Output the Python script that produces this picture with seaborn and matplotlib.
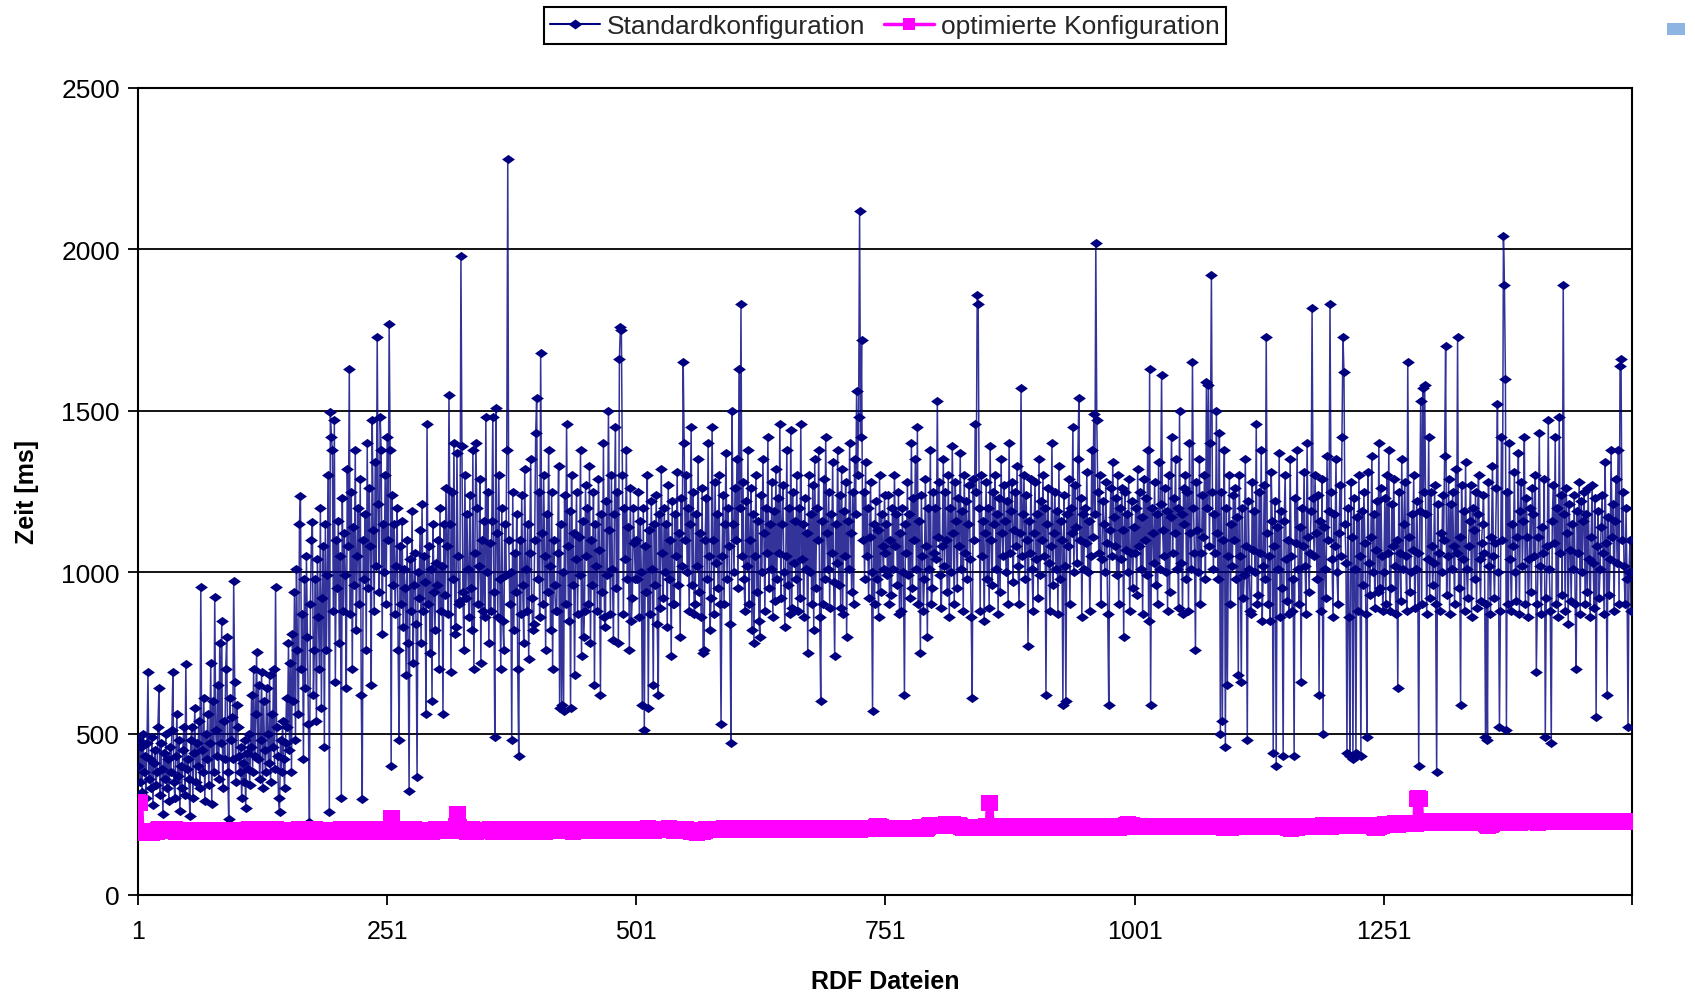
import numpy as np
import pandas as pd
import matplotlib
matplotlib.use("Agg")
import matplotlib.pyplot as plt
from matplotlib.lines import Line2D
from matplotlib.patches import Rectangle
import seaborn as sns

# ---------------- data ----------------
standard_ms = [
    # 1-50
    400, 480, 350, 460, 320, 500, 380, 430, 300, 470,
    690, 360, 420, 330, 490, 280, 410, 450, 340, 380,
    520, 640, 310, 470, 390, 250, 440, 360, 500, 330,
    420, 290, 460, 380, 510, 690, 350, 300, 430, 560,
    370, 480, 260, 400, 330, 450, 520, 310, 716, 390,
    # 51-100
    420, 360, 245, 480, 520, 300, 440, 580, 350, 470,
    400, 540, 330, 954, 450, 380, 610, 290, 500, 420,
    560, 340, 470, 720, 282, 600, 380, 923, 510, 430,
    650, 360, 780, 470, 850, 330, 540, 420, 700, 800,
    380, 235, 610, 480, 550, 420, 973, 660, 350, 590,
    # 101-150
    520, 430, 380, 460, 300, 410, 350, 480, 270, 440,
    390, 500, 340, 460, 620, 380, 700, 430, 560, 753,
    420, 650, 360, 480, 690, 330, 600, 450, 380, 640,
    500, 410, 680, 350, 560, 460, 700, 390, 954, 520,
    430, 300, 257, 480, 380, 540, 420, 330, 470, 610,
    # 151-200
    520, 780, 450, 720, 380, 810, 600, 940, 480, 1010,
    760, 560, 1150, 1236, 700, 870, 420, 980, 640, 1050,
    800, 530, 226, 900, 1100, 1155, 620, 760, 980, 540,
    1040, 860, 700, 1200, 580, 920, 1080, 460, 1150, 760,
    990, 1300, 257, 1496, 1420, 1380, 880, 1470, 660, 1100,
    # 201-250
    950, 1160, 780, 1050, 300, 1230, 880, 1120, 990, 640,
    1320, 1080, 1630, 870, 1250, 700, 1140, 960, 1380, 820,
    1050, 1200, 900, 1290, 620, 297, 1100, 980, 1180, 760,
    1400, 950, 1260, 1080, 650, 1470, 1130, 880, 1340, 1020,
    1730, 1210, 940, 1480, 1380, 810, 1150, 1000, 1300, 900,
    # 251-300
    1420, 1100, 1770, 1380, 400, 1240, 960, 1150, 870, 1020,
    1200, 760, 480, 1080, 900, 1160, 830, 1010, 950, 680,
    1100, 780, 322, 1040, 880, 1190, 720, 960, 1060, 840,
    365, 1000, 920, 1130, 780, 1210, 880, 1050, 970, 560,
    1459, 900, 1080, 750, 1010, 600, 1150, 940, 820, 1030,
    # 301-350
    960, 1100, 700, 1200, 880, 1020, 560, 1150, 930, 1260,
    1080, 870, 1550, 1150, 690, 1250, 980, 1400, 810, 830,
    1370, 1050, 900, 910, 1980, 1390, 940, 760, 1300, 920,
    1180, 1010, 860, 1240, 950, 820, 1380, 700, 1060, 1400,
    1200, 900, 1020, 1290, 720, 1100, 880, 1160, 860, 1480,
    # 351-400
    1000, 1250, 780, 1090, 880, 1160, 1480, 940, 490, 1510,
    1120, 860, 1300, 980, 700, 1200, 850, 760, 1150, 990,
    1380, 2280, 1100, 900, 1000, 480, 1250, 820, 1060, 940,
    1180, 700, 430, 1100, 870, 1240, 960, 780, 1320, 1010,
    880, 1150, 730, 1060, 1350, 920, 820, 840, 1100, 1430,
    # 401-450
    1540, 980, 1250, 860, 1680, 1120, 900, 1300, 1050, 760,
    1180, 940, 1380, 1020, 820, 1250, 700, 1100, 960, 880,
    880, 1060, 1330, 580, 1150, 590, 1000, 570, 1240, 900,
    1460, 1080, 850, 1190, 580, 1300, 960, 1120, 680, 1040,
    1250, 870, 1110, 990, 1380, 740, 1160, 800, 880, 1270,
    # 451-500
    1050, 1200, 900, 1330, 780, 1100, 960, 1250, 650, 1150,
    1020, 880, 1290, 1070, 620, 1180, 940, 1400, 860, 830,
    1220, 990, 1500, 1130, 870, 1300, 1010, 790, 1180, 1450,
    950, 1250, 780, 1660, 1760, 1750, 1300, 870, 1200, 1040,
    1380, 980, 1140, 760, 1260, 850, 920, 1200, 1090, 980,
    # 501-550
    1100, 980, 1250, 860, 1160, 1000, 590, 1200, 510, 1080,
    940, 1300, 580, 1130, 870, 1220, 1010, 650, 1150, 960,
    1240, 840, 620, 1180, 890, 1320, 1060, 920, 1200, 1000,
    1150, 830, 1270, 980, 1100, 740, 1220, 900, 900, 1180,
    1050, 1310, 960, 1120, 800, 1230, 1020, 1650, 1400, 1100,
    # 551-600
    1300, 1000, 1200, 880, 1150, 1450, 960, 1250, 870, 900,
    1180, 1020, 1350, 940, 1120, 860, 1260, 750, 760, 1100,
    1230, 980, 1400, 1050, 820, 920, 1450, 1100, 870, 1280,
    1030, 1180, 950, 1300, 900, 530, 1050, 1240, 900, 1150,
    1370, 980, 1200, 1080, 840, 470, 1500, 1150, 1000, 1260,
    # 601-650
    1100, 1350, 950, 1630, 1200, 1830, 1050, 1280, 980, 880,
    1220, 1020, 1380, 900, 1100, 1260, 820, 1180, 780, 1050,
    1300, 940, 1160, 850, 800, 1240, 1000, 1350, 1120, 880,
    1200, 1060, 1420, 950, 1150, 1010, 1280, 860, 1190, 910,
    1320, 980, 1230, 1060, 1460, 920, 1150, 1270, 1000, 830,
    # 651-700
    1050, 1380, 960, 1200, 870, 1440, 890, 1250, 1030, 1160,
    980, 1300, 880, 1200, 920, 1460, 1040, 1150, 860, 1230,
    1010, 1120, 750, 1300, 1000, 1180, 900, 1270, 820, 1350,
    950, 1200, 1100, 1380, 860, 600, 1160, 900, 1290, 980,
    1420, 1120, 1010, 1250, 890, 1180, 1060, 1340, 970, 740,
    # 701-750
    1150, 1030, 1380, 960, 1240, 890, 1320, 870, 1190, 1050,
    1280, 800, 1160, 1010, 1400, 1120, 940, 1250, 900, 1350,
    1180, 1560, 1300, 1480, 2120, 1420, 1720, 1100, 1250, 980,
    1340, 1050, 1200, 920, 1110, 1280, 1000, 570, 1150, 900,
    1220, 980, 1130, 860, 1300, 940, 1180, 1080, 1010, 1240,
    # 751-800
    1060, 1150, 990, 1240, 900, 1100, 930, 1200, 1010, 1300,
    1080, 1180, 960, 1250, 870, 1120, 880, 1200, 1000, 620,
    1150, 1060, 1280, 990, 1180, 920, 1400, 950, 1230, 1100,
    1350, 1010, 1450, 900, 1160, 750, 1240, 1050, 880, 980,
    1290, 1080, 800, 1200, 1010, 1380, 900, 950, 1250, 1060,
    # 801-850
    1200, 1040, 1530, 1110, 1280, 990, 890, 1080, 1350, 1020,
    1250, 1100, 940, 1300, 860, 1200, 1000, 1390, 1120, 900,
    1280, 1160, 950, 1230, 1080, 1370, 1010, 1190, 880, 1300,
    1060, 1220, 980, 1150, 1270, 1040, 860, 610, 1290, 1100,
    1460, 1250, 1860, 1830, 1200, 880, 1300, 1050, 1160, 850,
    # 851-900
    1120, 1280, 980, 1200, 890, 1390, 1100, 960, 1250, 1150,
    1300, 1010, 1180, 870, 1230, 940, 1350, 1120, 1050, 1270,
    1160, 1000, 1220, 900, 1400, 1060, 1190, 1280, 970, 1130,
    1250, 1080, 1330, 1020, 900, 1120, 1570, 1050, 1180, 1300,
    980, 1240, 1100, 770, 1160, 1060, 1290, 1010, 880, 1120,
    # 901-950
    1280, 1040, 1180, 920, 1350, 990, 1220, 1100, 1300, 1050,
    1200, 620, 1150, 1260, 1030, 880, 1080, 1400, 960, 1120,
    1250, 1010, 1190, 870, 1330, 980, 1160, 1100, 590, 1240,
    1020, 600, 1180, 1080, 1290, 900, 1200, 1120, 1450, 1000,
    1270, 1140, 1030, 1350, 1540, 1100, 1230, 860, 1180, 1010,
    # 951-1000
    1200, 1090, 1310, 1000, 1160, 880, 1050, 1380, 1110, 1490,
    1180, 2020, 1470, 1250, 1060, 1300, 900, 1040, 1220, 1150,
    1000, 1280, 1090, 870, 590, 1130, 1260, 1050, 1340, 1170,
    1080, 1230, 990, 1300, 900, 1200, 1040, 1260, 1130, 800,
    1250, 1070, 1180, 1000, 1290, 880, 1060, 1220, 950, 1140,
    # 1001-1050
    1060, 1200, 930, 1320, 1080, 1250, 1010, 1170, 870, 1290,
    1100, 1230, 990, 1380, 850, 1630, 590, 1200, 1120, 1030,
    1280, 960, 1180, 900, 1340, 1010, 1210, 1610, 1130, 1050,
    1260, 1000, 1190, 880, 1300, 940, 1170, 1420, 1060, 1230,
    1120, 1350, 1010, 1200, 890, 1500, 1030, 1180, 870, 1260,
    # 1051-1100
    1150, 1300, 980, 1250, 880, 1400, 1120, 1010, 1650, 1200,
    1060, 760, 1280, 1130, 1000, 1350, 900, 1060, 1240, 1110,
    1300, 980, 1590, 1200, 1580, 1080, 1400, 1920, 1250, 1010,
    1180, 1060, 1500, 1120, 980, 1430, 500, 1250, 540, 1100,
    1380, 460, 1200, 650, 1050, 1300, 900, 1150, 1020, 1240,
    # 1101-1150
    1100, 1260, 980, 1170, 680, 1300, 1050, 660, 1200, 920,
    990, 1350, 1080, 480, 1220, 1010, 880, 870, 1280, 1070,
    1190, 1000, 1460, 900, 930, 1250, 1060, 1380, 850, 1020,
    1270, 980, 1730, 1120, 900, 1050, 850, 1310, 1160, 440,
    1080, 1220, 400, 1140, 1010, 1370, 860, 1190, 950, 430,
    # 1151-1200
    1160, 1300, 1040, 910, 1100, 870, 1350, 1050, 880, 980,
    430, 1230, 1090, 1380, 1010, 900, 1140, 660, 1200, 1080,
    1310, 1020, 870, 1400, 1110, 940, 1060, 1190, 1820, 1230,
    1050, 1300, 1120, 980, 1240, 620, 1160, 880, 1290, 500,
    1140, 1010, 920, 1360, 1100, 1190, 1830, 1250, 1040, 860,
    # 1201-1250
    1180, 1080, 1350, 1000, 900, 1120, 1270, 1050, 1420, 1730,
    1620, 1150, 1030, 440, 1200, 860, 430, 1280, 1110, 420,
    1230, 1010, 440, 1170, 880, 1300, 1050, 430, 1190, 960,
    1250, 1090, 870, 490, 1310, 1030, 930, 1110, 1360, 1000,
    1180, 890, 1070, 1220, 940, 1400, 950, 1260, 1050, 880,
    # 1251-1300
    1000, 1230, 900, 1300, 1060, 1380, 880, 950, 1210, 1080,
    1290, 1020, 870, 1100, 640, 1250, 1060, 910, 1350, 1010,
    1150, 1280, 1050, 880, 1650, 1110, 940, 1000, 1180, 1070,
    1300, 890, 1010, 1220, 1060, 400, 1190, 1530, 900, 1570,
    1250, 1580, 1180, 870, 1040, 1420, 920, 1250, 1080, 960,
    # 1301-1350
    1030, 1270, 900, 380, 1210, 1060, 880, 1120, 1000, 1240,
    1100, 1360, 1700, 930, 1050, 1290, 870, 1210, 1010, 1250,
    1080, 900, 1320, 1060, 1730, 950, 1110, 590, 1270, 1040,
    1190, 880, 1340, 1010, 920, 1080, 1160, 1270, 860, 1200,
    1130, 980, 1250, 890, 1180, 1300, 1040, 910, 1090, 1150,
    # 1351-1400
    1240, 1060, 490, 900, 480, 1280, 1020, 870, 1110, 1330,
    1050, 920, 1090, 1260, 1520, 1000, 520, 880, 1420, 1100,
    2040, 1890, 1600, 510, 1250, 900, 1400, 1040, 880, 1150,
    1080, 1310, 1000, 910, 1110, 1370, 870, 1190, 1280, 1020,
    1160, 1420, 900, 1230, 1110, 860, 1040, 1200, 940, 1260,
    # 1401-1450
    1180, 1050, 1300, 690, 900, 1110, 1430, 1020, 870, 1140,
    1060, 1290, 490, 920, 1080, 1470, 1010, 880, 470, 1160,
    1270, 1090, 1420, 900, 1200, 860, 1480, 1060, 1240, 930,
    1890, 1180, 880, 1260, 1120, 840, 1210, 1070, 910, 1150,
    1010, 1240, 900, 700, 1190, 1060, 1280, 870, 1220, 1000,
    # 1451-1500
    1160, 1250, 900, 1180, 940, 1260, 1040, 860, 1110, 1270,
    1030, 890, 1230, 550, 1080, 1190, 920, 1010, 1140, 1240,
    1060, 870, 1340, 1090, 620, 1170, 930, 1040, 1380, 1110,
    1210, 880, 1160, 1290, 1030, 1380, 900, 1640, 1660, 1100,
    1250, 1020, 900, 1200, 980, 520, 1000, 1100, 880, 1000,
]

optimiert_ms = [
    # 1-50
    288, 286, 284, 197, 195, 192, 196, 194, 198, 195,
    192, 196, 194, 198, 193, 197, 195, 199, 196, 194,
    200, 203, 198, 201, 204, 199, 202, 200, 197, 203,
    201, 198, 204, 200, 197, 202, 199, 203, 196, 201,
    198, 200, 197, 202, 199, 196, 201, 198, 200, 197,
    # 51-100
    199, 196, 201, 198, 195, 200, 197, 202, 199, 196,
    198, 201, 197, 199, 202, 196, 200, 198, 195, 201,
    199, 197, 202, 198, 200, 196, 199, 201, 197, 200,
    198, 195, 201, 199, 197, 202, 198, 200, 196, 199,
    201, 197, 200, 198, 196, 201, 199, 197, 200, 198,
    # 101-150
    196, 200, 198, 202, 197, 199, 195, 201, 198, 200,
    197, 203, 199, 196, 201, 198, 200, 195, 199, 202,
    198, 196, 200, 203, 197, 199, 201, 196, 198, 200,
    202, 197, 199, 195, 200, 198, 201, 197, 203, 199,
    196, 200, 198, 202, 197, 199, 201, 196, 198, 200,
    # 151-200
    199, 197, 201, 195, 198, 200, 196, 202, 199, 197,
    200, 198, 203, 196, 199, 201, 197, 195, 200, 198,
    202, 199, 196, 200, 198, 201, 197, 199, 203, 196,
    198, 200, 197, 202, 199, 195, 201, 198, 200, 197,
    199, 202, 196, 200, 198, 201, 197, 199, 196, 200,
    # 201-250
    198, 201, 197, 199, 203, 196, 200, 198, 202, 197,
    199, 195, 201, 198, 200, 204, 197, 199, 196, 201,
    198, 200, 197, 203, 199, 196, 201, 198, 200, 202,
    197, 199, 204, 198, 201, 196, 200, 203, 199, 197,
    201, 198, 200, 196, 202, 199, 197, 201, 199, 202,
    # 251-300
    199, 203, 201, 204, 238, 240, 202, 199, 202, 196,
    199, 201, 197, 200, 203, 198, 196, 201, 199, 197,
    200, 198, 202, 196, 199, 201, 197, 203, 200, 198,
    196, 201, 199, 197, 202, 200, 198, 195, 201, 199,
    197, 200, 198, 202, 199, 196, 201, 198, 200, 203,
    # 301-350
    197, 199, 201, 198, 204, 200, 197, 202, 199, 201,
    198, 200, 197, 203, 199, 201, 198, 200, 204, 215,
    250, 252, 210, 199, 201, 197, 200, 198, 202, 199,
    196, 201, 198, 200, 197, 203, 199, 201, 198, 196,
    200, 202, 199, 197, 201, 198, 200, 199, 197, 201,
    # 351-400
    199, 197, 201, 203, 198, 200, 196, 202, 199, 197,
    201, 198, 200, 204, 197, 199, 202, 198, 196, 200,
    203, 199, 197, 201, 198, 200, 202, 196, 199, 201,
    197, 200, 198, 203, 199, 196, 201, 198, 200, 202,
    198, 201, 197, 199, 203, 200, 196, 198, 201, 199,
    # 401-450
    200, 203, 198, 201, 197, 199, 202, 200, 196, 201,
    199, 197, 202, 200, 198, 204, 199, 201, 197, 200,
    202, 198, 200, 203, 199, 197, 201, 198, 204, 200,
    197, 201, 199, 202, 198, 200, 196, 203, 199, 201,
    200, 198, 202, 199, 201, 197, 203, 200, 198, 202,
    # 451-500
    203, 200, 205, 201, 198, 204, 202, 199, 206, 201,
    203, 199, 202, 205, 200, 203, 198, 204, 201, 206,
    202, 199, 204, 201, 203, 200, 205, 202, 198, 203,
    201, 204, 200, 206, 202, 199, 203, 201, 205, 200,
    204, 202, 199, 203, 201, 206, 200, 204, 202, 203,
    # 501-550
    205, 201, 204, 202, 199, 206, 203, 200, 205, 202,
    204, 201, 207, 203, 200, 205, 202, 204, 199, 206,
    203, 201, 205, 202, 204, 200, 206, 203, 201, 205,
    202, 204, 200, 207, 203, 201, 205, 202, 199, 204,
    206, 203, 201, 205, 202, 204, 200, 203, 206, 202,
    # 551-600
    203, 201, 199, 202, 198, 196, 199, 195, 197, 194,
    196, 193, 197, 195, 198, 194, 199, 196, 201, 198,
    203, 200, 205, 202, 204, 201, 206, 203, 200, 205,
    202, 204, 201, 206, 203, 200, 205, 202, 207, 204,
    201, 205, 203, 200, 206, 202, 204, 201, 205, 203,
    # 601-650
    206, 203, 205, 201, 207, 204, 202, 206, 203, 205,
    201, 207, 204, 202, 206, 203, 205, 200, 207, 204,
    203, 206, 202, 205, 201, 207, 204, 203, 206, 202,
    205, 203, 207, 201, 204, 206, 202, 205, 203, 207,
    204, 202, 206, 203, 205, 201, 207, 204, 202, 206,
    # 651-700
    203, 205, 202, 207, 204, 201, 206, 203, 205, 202,
    207, 204, 203, 206, 201, 205, 203, 207, 204, 202,
    206, 203, 205, 202, 208, 204, 201, 206, 203, 205,
    202, 207, 204, 203, 206, 201, 205, 204, 207, 202,
    205, 203, 206, 204, 202, 207, 203, 205, 201, 206,
    # 701-750
    204, 207, 203, 206, 202, 205, 208, 204, 206, 203,
    207, 205, 202, 206, 204, 208, 203, 205, 207, 204,
    206, 203, 208, 205, 202, 207, 204, 206, 203, 208,
    205, 204, 207, 203, 206, 205, 208, 204, 206, 209,
    212, 214, 213, 215, 212, 210, 208, 206, 205, 207,
    # 751-800
    206, 208, 205, 207, 204, 209, 206, 205, 208, 207,
    204, 206, 209, 205, 207, 204, 208, 206, 205, 209,
    207, 205, 208, 206, 204, 209, 207, 205, 208, 206,
    209, 206, 208, 205, 207, 210, 206, 208, 205, 207,
    209, 206, 208, 212, 215, 217, 214, 216, 213, 215,
    # 801-850
    217, 214, 218, 215, 216, 213, 217, 215, 218, 214,
    216, 219, 215, 217, 214, 218, 216, 215, 219, 217,
    214, 218, 216, 213, 217, 215, 212, 210, 208, 209,
    207, 210, 208, 211, 209, 207, 210, 208, 211, 209,
    208, 210, 207, 211, 209, 208, 212, 210, 209, 211,
    # 851-900
    210, 213, 209, 211, 286, 284, 212, 209, 211, 208,
    210, 212, 209, 211, 208, 210, 213, 209, 211, 208,
    212, 210, 209, 213, 211, 208, 210, 212, 209, 211,
    213, 210, 208, 212, 209, 211, 209, 212, 210, 208,
    213, 211, 209, 212, 210, 211, 209, 212, 210, 213,
    # 901-950
    212, 209, 211, 214, 210, 212, 209, 213, 211, 210,
    213, 211, 209, 212, 210, 214, 211, 209, 212, 213,
    210, 212, 214, 211, 209, 213, 210, 212, 211, 214,
    209, 211, 213, 210, 212, 209, 214, 211, 210, 212,
    213, 210, 212, 211, 214, 209, 212, 210, 213, 211,
    # 951-1000
    210, 213, 211, 209, 212, 214, 210, 212, 211, 209,
    213, 211, 214, 210, 212, 209, 213, 211, 210, 214,
    212, 209, 211, 213, 210, 212, 214, 211, 209, 213,
    211, 210, 213, 212, 209, 214, 211, 210, 213, 212,
    215, 218, 216, 219, 217, 215, 218, 216, 214, 212,
    # 1001-1050
    213, 211, 214, 212, 210, 213, 211, 215, 212, 210,
    214, 212, 211, 213, 215, 210, 212, 214, 211, 213,
    212, 215, 211, 213, 210, 214, 212, 211, 215, 213,
    210, 212, 214, 211, 213, 215, 212, 210, 213, 211,
    214, 212, 213, 211, 215, 212, 210, 214, 213, 211,
    # 1051-1100
    212, 214, 211, 213, 215, 210, 213, 212, 214, 211,
    213, 215, 212, 210, 214, 211, 213, 215, 212, 214,
    211, 213, 210, 214, 212, 215, 211, 213, 212, 210,
    214, 211, 213, 215, 212, 210, 214, 212, 211, 213,
    209, 207, 208, 210, 207, 209, 211, 208, 210, 212,
    # 1101-1150
    213, 211, 214, 212, 210, 215, 213, 211, 214, 212,
    210, 213, 215, 211, 214, 212, 213, 210, 215, 212,
    214, 211, 213, 212, 215, 210, 213, 214, 211, 213,
    212, 215, 211, 214, 213, 210, 212, 215, 213, 211,
    214, 212, 210, 213, 211, 215, 212, 214, 211, 213,
    # 1151-1200
    212, 214, 211, 213, 209, 207, 208, 206, 209, 207,
    208, 210, 207, 209, 211, 213, 212, 214, 211, 215,
    213, 211, 214, 212, 215, 213, 210, 214, 212, 215,
    211, 214, 213, 212, 215, 211, 213, 214, 212, 216,
    213, 215, 212, 214, 216, 213, 215, 212, 214, 216,
    # 1201-1250
    214, 216, 213, 215, 217, 214, 216, 213, 215, 217,
    214, 216, 215, 213, 217, 214, 216, 215, 218, 214,
    216, 213, 217, 215, 214, 218, 216, 213, 217, 215,
    214, 217, 215, 213, 218, 216, 214, 217, 215, 213,
    210, 208, 211, 209, 212, 210, 216, 218, 215, 217,
    # 1251-1300
    217, 219, 216, 218, 220, 217, 219, 216, 221, 218,
    220, 222, 219, 221, 218, 222, 220, 219, 223, 221,
    222, 219, 221, 224, 220, 222, 219, 223, 221, 222,
    220, 223, 221, 297, 299, 296, 298, 224, 222, 225,
    223, 226, 224, 227, 225, 228, 226, 224, 227, 225,
    # 1301-1350
    226, 228, 225, 227, 229, 226, 224, 228, 226, 227,
    225, 228, 226, 224, 227, 229, 226, 225, 228, 226,
    227, 225, 229, 226, 228, 224, 227, 226, 229, 225,
    228, 226, 224, 227, 225, 229, 226, 228, 225, 227,
    226, 229, 225, 227, 228, 224, 226, 229, 227, 225,
    # 1351-1400
    228, 226, 224, 220, 217, 215, 216, 218, 217, 220,
    224, 227, 226, 228, 225, 227, 229, 226, 228, 225,
    227, 229, 226, 228, 224, 227, 225, 229, 226, 228,
    225, 227, 229, 226, 228, 225, 227, 224, 228, 226,
    229, 226, 228, 225, 227, 229, 226, 228, 225, 227,
    # 1401-1450
    226, 228, 225, 229, 227, 224, 228, 226, 229, 225,
    227, 229, 226, 228, 225, 227, 230, 226, 228, 227,
    225, 228, 226, 229, 227, 225, 228, 226, 229, 227,
    228, 225, 227, 229, 226, 228, 225, 227, 229, 226,
    227, 229, 226, 228, 225, 229, 227, 226, 228, 230,
    # 1451-1500
    226, 228, 225, 229, 227, 230, 226, 228, 225, 229,
    227, 225, 228, 230, 226, 229, 227, 225, 228, 226,
    229, 227, 230, 226, 228, 225, 229, 227, 226, 230,
    228, 226, 229, 227, 225, 230, 228, 226, 229, 227,
    225, 228, 230, 226, 229, 227, 228, 226, 230, 228,
]

x_tick_positions = [1, 251, 501, 751, 1001, 1251]
x_tick_labels = ["1", "251", "501", "751", "1001", "1251"]
y_ticks = [0, 500, 1000, 1500, 2000, 2500]
series_names = ["Standardkonfiguration", "optimierte Konfiguration"]
x_label = "RDF Dateien"
y_label = "Zeit [ms]"

# ---------------- style ----------------
sns.set_style("white")
plt.rcParams["font.family"] = ["Liberation Sans", "DejaVu Sans"]

NAVY = "#000080"
MAGENTA = "#FF00FF"

df_std = pd.DataFrame({"datei": np.arange(1, len(standard_ms) + 1), "zeit": standard_ms})
df_opt = pd.DataFrame({"datei": np.arange(1, len(optimiert_ms) + 1), "zeit": optimiert_ms})
n_max = max(len(standard_ms), len(optimiert_ms))

fig = plt.figure(figsize=(16.95, 9.95), dpi=100)
ax = fig.add_axes([138 / 1695, 1 - 896 / 995, (1632 - 138) / 1695, (896 - 89) / 995])

# horizontal grid lines
for yv in y_ticks[1:-1]:
    ax.axhline(yv, color="black", linewidth=1.3, zorder=1)

# Standardkonfiguration: thin line + flat diamonds
diamond = [(-1, 0), (0, 0.72), (1, 0), (0, -0.72), (-1, 0)]
sns.lineplot(data=df_std, x="datei", y="zeit", ax=ax, color=NAVY, linewidth=1.1,
             alpha=0.8, estimator=None, sort=False, zorder=2, legend=False)
sns.scatterplot(data=df_std, x="datei", y="zeit", ax=ax, color=NAVY, marker=diamond,
                s=85, linewidth=0, zorder=3, legend=False)

# optimierte Konfiguration: thick magenta line + squares
sns.lineplot(data=df_opt, x="datei", y="zeit", ax=ax, color=MAGENTA, linewidth=5,
             estimator=None, sort=False, zorder=4, legend=False)
sns.scatterplot(data=df_opt, x="datei", y="zeit", ax=ax, color=MAGENTA, marker="s",
                s=125, linewidth=0, zorder=5, legend=False)

ax.set_xlim(1, n_max)
ax.set_ylim(0, 2500)
ax.set_yticks(y_ticks)
ax.set_yticklabels([str(v) for v in y_ticks])
ax.set_xticks(x_tick_positions + [n_max])
ax.set_xticklabels(x_tick_labels + [""])

for side in ["left", "right", "top", "bottom"]:
    ax.spines[side].set_visible(True)
    ax.spines[side].set_color("black")
    ax.spines[side].set_linewidth(1.5)

ax.tick_params(axis="both", which="major", direction="out", length=7, width=1.3,
               color="black", labelsize=18, labelcolor="black")
ax.tick_params(axis="x", pad=10, bottom=True)
ax.tick_params(axis="y", pad=6, left=True, labelsize=19)

ax.set_xlabel(x_label, fontsize=18, fontweight="bold", color="black")
ax.set_ylabel(y_label, fontsize=18, fontweight="bold", color="black")
ax.xaxis.set_label_coords(0.5, -0.092)
ax.yaxis.set_label_coords(-0.066, 0.5)

# legend
handles = [
    Line2D([], [], color=NAVY, linewidth=1.5, marker=diamond, markersize=10,
           markeredgewidth=0),
    Line2D([], [], color=MAGENTA, linewidth=2.5, marker="s", markersize=9,
           markeredgewidth=0),
]
leg = fig.legend(handles, series_names, loc="center", bbox_to_anchor=(0.522, 0.973),
                 ncol=2, frameon=True, fancybox=False, fontsize=19, handlelength=1.9,
                 handletextpad=0.25, columnspacing=0.7, borderpad=0.25,
                 borderaxespad=0)
leg.get_frame().set_edgecolor("black")
leg.get_frame().set_linewidth(1.5)
leg.get_frame().set_facecolor("white")
leg.get_frame().set_alpha(1)

# small light-blue square in the top-right corner
fig.add_artist(Rectangle((1667 / 1695, 1 - 36 / 995), 18 / 1695, 12 / 995,
                         transform=fig.transFigure, color="#8DB4E2", linewidth=0))

fig.savefig("out.png", dpi=100, facecolor="white")
